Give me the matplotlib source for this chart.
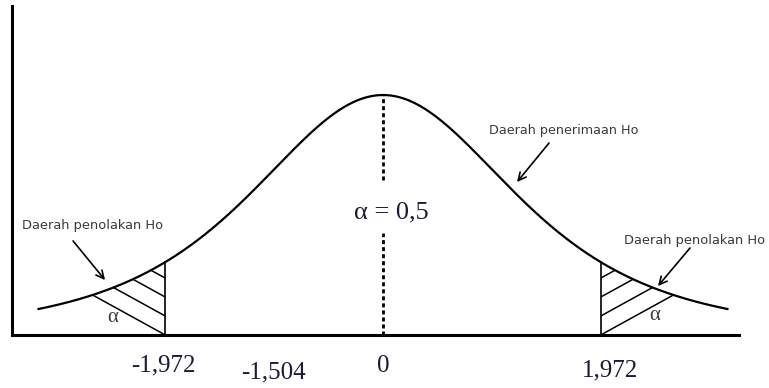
import numpy as np
import matplotlib
matplotlib.use("Agg")
import matplotlib.pyplot as plt
from matplotlib.patches import Polygon

# bell shape (Student t look), x in "label" units
t_df = 3
t_scale = 1.262
x_start, x_end = -3.13, 3.13

crit = 1.972                      # rejection boundary
tick_pos = [-1.988, -0.992, 0.0, 2.056]
tick_labels = ["-1,972", "-1,504", "0", "1,972"]
tick_dy = [-0.125, -0.154, -0.13, -0.146]

label_alpha_mid = "\u03b1 = 0,5"
label_reject = "Daerah penolakan Ho"
label_accept = "Daerah penerimaan Ho"


def bell(x):
    return (1 + (np.asarray(x) / t_scale) ** 2 / t_df) ** (-(t_df + 1) / 2)


serif = ["Liberation Serif", "DejaVu Serif"]
navy = "#1b1b38"
grey = "#3a3a3a"

fig = plt.figure(figsize=(7.69, 3.88), dpi=100)
ax = fig.add_axes([12 / 769, 53 / 388, 727 / 769, 329 / 388])
ax.set_xlim(-3.361, 3.225)
ax.set_ylim(0, 1.371)

for side in ["top", "right"]:
    ax.spines[side].set_visible(False)
for side in ["left", "bottom"]:
    ax.spines[side].set_linewidth(2.2)
    ax.spines[side].set_color("black")
ax.set_xticks([])
ax.set_yticks([])

# curve
xs = np.linspace(x_start, x_end, 600)
ax.plot(xs, bell(xs), color="black", lw=1.6, solid_capstyle="butt")

# boundary lines
for c in (-crit, crit):
    ax.plot([c, c], [0, bell(c)], color="black", lw=1.2)

# hatched tails
m = 0.253
sp = 0.079
regions = [
    (np.linspace(x_start, -crit, 200), -1),
    (np.linspace(crit, x_end, 200), 1),
]
for rx, sgn in regions:
    verts = list(zip(rx, bell(rx))) + [(rx[-1], 0), (rx[0], 0)]
    poly = Polygon(verts, closed=True, facecolor="none", edgecolor="none",
                   transform=ax.transData)
    ax.add_patch(poly)
    hx = np.array([x_start - 0.2, x_end + 0.2])
    for k in range(14):
        hy = sgn * m * (hx - sgn * crit) + k * sp
        ln, = ax.plot(hx, hy, color="black", lw=1.1)
        ln.set_clip_path(poly)

# dashed centre line, broken by the label
for y0, y1 in [(0, 0.425), (0.646, bell(0))]:
    ax.plot([0, 0], [y0, y1], color="black", lw=2.0, dashes=(1.45, 1.08))

ax.text(0.072, 0.5125, label_alpha_mid, family=serif, fontsize=19,
        color=navy, ha="center", va="center")
ax.text(-2.446, 0.075, "\u03b1", family=serif, fontsize=15,
        color=grey, ha="center", va="center")
ax.text(2.464, 0.083, "\u03b1", family=serif, fontsize=15,
        color=grey, ha="center", va="center")

# region labels with arrows
arrow = dict(arrowstyle="->", color="black", lw=1.2, mutation_scale=14,
             shrinkA=0, shrinkB=0)
ax.text(-2.627, 0.458, label_reject, fontsize=9.4, color=grey,
        ha="center", va="center", clip_on=False)
ax.annotate("", xy=(-2.518, 0.229), xytext=(-2.808, 0.392), arrowprops=arrow)
ax.text(2.826, 0.392, label_reject, fontsize=9.4, color=grey,
        ha="center", va="center", clip_on=False)
ax.annotate("", xy=(2.491, 0.204), xytext=(2.781, 0.3625), arrowprops=arrow,
            annotation_clip=False)
ax.text(1.639, 0.854, label_accept, fontsize=9.2, color=grey,
        ha="center", va="center")
ax.annotate("", xy=(1.214, 0.6375), xytext=(1.504, 0.8), arrowprops=arrow)

# value labels under the axis
for xp, lab, dy in zip(tick_pos, tick_labels, tick_dy):
    ax.text(xp, dy, lab, family=serif, fontsize=18, color=navy,
            ha="center", va="center", clip_on=False)

fig.savefig("out.png", dpi=100)
